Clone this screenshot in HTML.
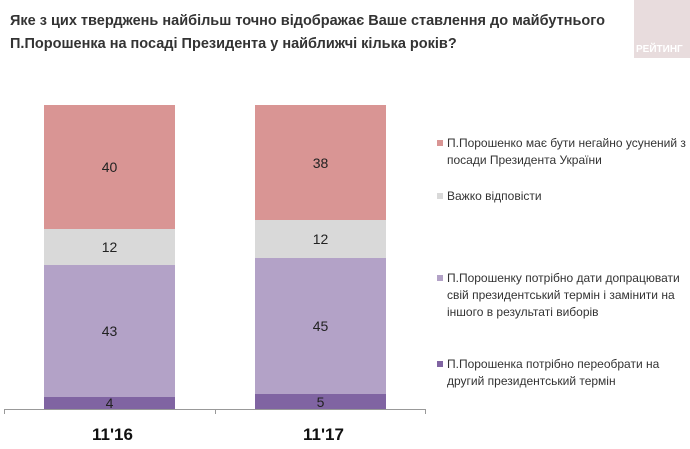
<!DOCTYPE html>
<html><head><meta charset="utf-8"><style>
body{margin:0;width:690px;height:449px;background:#fff;position:relative;overflow:hidden;font-family:"Liberation Sans",sans-serif}
.t{position:absolute;left:10px;top:10px;font-size:14.5px;font-weight:bold;color:#333;line-height:23px}
.s{position:absolute;display:flex;align-items:center;justify-content:center;font-size:14px;color:#222}
.lg{position:absolute;left:437px;font-size:12px;color:#333;line-height:17px;white-space:nowrap}
.lg i{position:absolute;left:0;top:5px;width:6px;height:6px}
.lg span{display:block;margin-left:10px}
.x{position:absolute;top:425px;font-size:17px;font-weight:bold;color:#111}
</style></head><body>
<div class="t">Яке з цих тверджень найбільш точно відображає Ваше ставлення до майбутнього<br>П.Порошенка на посаді Президента у найближчі кілька років?</div>
<div style="position:absolute;left:634px;top:0;width:56px;height:58px;background:#e8dcdd"></div>
<div style="position:absolute;left:636px;top:44px;font-size:10px;font-weight:bold;color:#fff">РЕЙТИНГ</div>

<div class="s" style="left:44px;top:105px;width:131px;height:124px;background:#d99594">40</div>
<div class="s" style="left:44px;top:229px;width:131px;height:36px;background:#d9d9d9">12</div>
<div class="s" style="left:44px;top:265px;width:131px;height:132px;background:#b3a2c7">43</div>
<div class="s" style="left:44px;top:397px;width:131px;height:12px;background:#8064a2">4</div>

<div class="s" style="left:255px;top:105px;width:131px;height:115px;background:#d99594">38</div>
<div class="s" style="left:255px;top:220px;width:131px;height:38px;background:#d9d9d9">12</div>
<div class="s" style="left:255px;top:258px;width:131px;height:136px;background:#b3a2c7">45</div>
<div class="s" style="left:255px;top:394px;width:131px;height:15px;background:#8064a2">5</div>

<div style="position:absolute;left:4px;top:409px;width:422px;height:1px;background:#999"></div>
<div style="position:absolute;left:4px;top:409px;width:1px;height:5px;background:#999"></div>
<div style="position:absolute;left:215px;top:409px;width:1px;height:5px;background:#999"></div>
<div style="position:absolute;left:425px;top:409px;width:1px;height:5px;background:#999"></div>
<div class="x" style="left:92px">11'16</div>
<div class="x" style="left:303px">11'17</div>

<div class="lg" style="top:135px"><i style="background:#d99594"></i><span>П.Порошенко має бути негайно усунений з<br>посади Президента України</span></div>
<div class="lg" style="top:188px"><i style="background:#d9d9d9"></i><span>Важко відповісти</span></div>
<div class="lg" style="top:270px"><i style="background:#b3a2c7"></i><span>П.Порошенку потрібно дати допрацювати<br>свій президентський термін і замінити на<br>іншого в результаті виборів</span></div>
<div class="lg" style="top:356px"><i style="background:#8064a2"></i><span>П.Порошенка потрібно переобрати на<br>другий президентський термін</span></div>
</body></html>
